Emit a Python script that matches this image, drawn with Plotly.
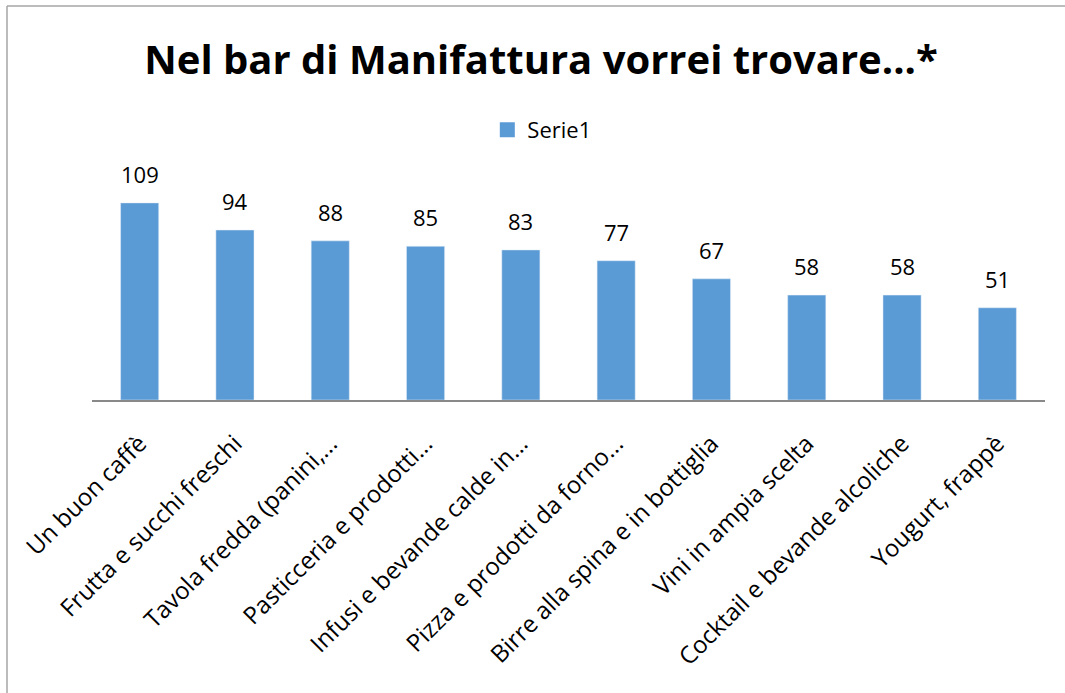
import plotly.graph_objects as go

categories = [
    "Un buon caffè",
    "Frutta e succhi freschi",
    "Tavola fredda (panini,...",
    "Pasticceria e prodotti...",
    "Infusi e bevande calde in...",
    "Pizza e prodotti da forno...",
    "Birre alla spina e in bottiglia",
    "Vini in ampia scelta",
    "Cocktail e bevande alcoliche",
    "Yougurt, frappè",
]
values = [109, 94, 88, 85, 83, 77, 67, 58, 58, 51]
series_name = "Serie1"
title_text = "Nel bar di Manifattura vorrei trovare...*"

font_family = "Open Sans, Lato, sans-serif"
bar_color = "#5B9BD5"
border_color = "#A6A6A6"

fig = go.Figure()
fig.add_trace(
    go.Bar(
        x=categories,
        y=values,
        name=series_name,
        marker=dict(color=bar_color),
        showlegend=False,
    )
)
# legend entry with a bigger square swatch
fig.add_trace(
    go.Scatter(
        x=[None],
        y=[None],
        mode="markers",
        name=series_name,
        marker=dict(symbol="square", size=15, color=bar_color),
        showlegend=True,
    )
)

# value labels above the bars
for cat, val in zip(categories, values):
    fig.add_annotation(
        x=cat,
        y=val,
        text=str(val),
        showarrow=False,
        yanchor="bottom",
        yshift=12,
        font=dict(size=22, family=font_family, color="#000000"),
    )

# chart frame: only the top and left edges are inside the picture
left_x = (7 - 92) / 953
top_y = (400 - 6) / 217
frame = [
    dict(type="line", xref="paper", yref="paper",
         x0=left_x, x1=left_x, y0=top_y, y1=(400 - 720) / 217,
         line=dict(color=border_color, width=1.5)),
    dict(type="line", xref="paper", yref="paper",
         x0=left_x, x1=(1120 - 92) / 953, y0=top_y, y1=top_y,
         line=dict(color=border_color, width=1.5)),
]

fig.update_layout(
    width=1065,
    height=693,
    margin=dict(l=92, r=20, t=183, b=293, autoexpand=False),
    paper_bgcolor="white",
    plot_bgcolor="white",
    bargap=0.6,
    font=dict(family=font_family, color="#000000"),
    title=dict(
        text="<b>" + title_text + "</b>",
        font=dict(size=40, family=font_family, color="#000000"),
        x=0.508,
        xref="container",
        xanchor="center",
        y=1 - 60 / 693,
        yref="container",
        yanchor="middle",
    ),
    legend=dict(
        orientation="h",
        x=0.472,
        xanchor="center",
        y=(400 - 130) / 217,
        yanchor="middle",
        font=dict(size=22, family=font_family),
        itemwidth=30,
    ),
    xaxis=dict(
        tickangle=-45,
        tickfont=dict(size=24, family=font_family),
        ticklabelstandoff=18,
        showline=True,
        linecolor="#898989",
        linewidth=2,
        ticks="",
        showgrid=False,
        automargin=False,
    ),
    yaxis=dict(
        range=[0, 120],
        visible=False,
        showgrid=False,
        zeroline=False,
        automargin=False,
    ),
    shapes=frame,
)

fig.write_html(
    "out.html",
    config={"displayModeBar": False},
    post_script="document.body.style.margin='0';document.body.style.overflow='hidden';",
)
